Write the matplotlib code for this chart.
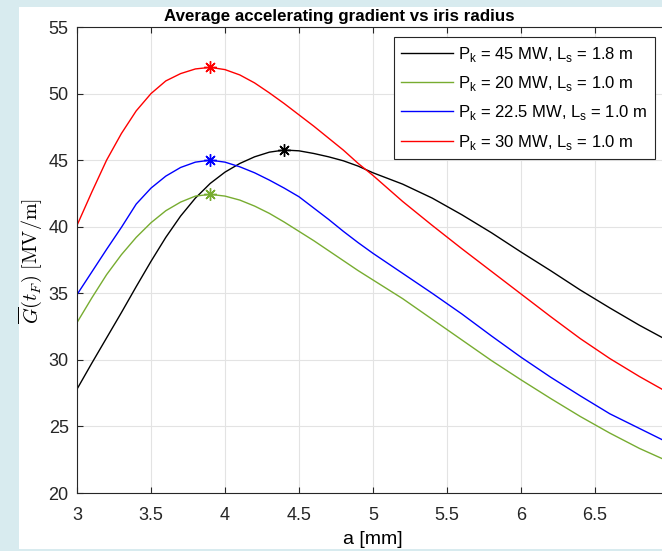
import numpy as np
import matplotlib
matplotlib.use("Agg")
import matplotlib.pyplot as plt
from matplotlib.patches import Rectangle

# Data.
a_mm = [3.0, 3.1, 3.2, 3.3, 3.4, 3.5, 3.6, 3.7, 3.8, 3.9, 4.0, 4.1, 4.2, 4.3,
        4.4, 4.5, 4.6, 4.7, 4.8, 4.9, 5.0, 5.2, 5.4, 5.6, 5.8, 6.0, 6.2, 6.4,
        6.6, 6.8, 7.0]

g_45_18 = [27.8, 29.75, 31.65, 33.55, 35.5, 37.4, 39.2, 40.8, 42.15, 43.25, 44.1,
           44.75, 45.25, 45.6, 45.76, 45.7, 45.5, 45.25, 44.95, 44.55, 44.05,
           43.2, 42.15, 40.9, 39.55, 38.1, 36.7, 35.25, 33.9, 32.6, 31.4]
g_20_10 = [32.8, 34.65, 36.4, 37.9, 39.2, 40.3, 41.2, 41.85, 42.3, 42.43, 42.3,
           42.0, 41.55, 41.0, 40.35, 39.65, 38.95, 38.2, 37.45, 36.7, 36.0,
           34.6, 33.05, 31.5, 29.95, 28.5, 27.1, 25.75, 24.5, 23.35, 22.35]
g_225_10 = [34.9, 36.6, 38.3, 39.95, 41.7, 42.9, 43.8, 44.45, 44.85, 45.0, 44.85,
            44.5, 44.05, 43.5, 42.9, 42.25, 41.4, 40.55, 39.65, 38.8, 38.0,
            36.5, 35.0, 33.45, 31.8, 30.2, 28.7, 27.3, 25.95, 24.85, 23.75]
g_30_10 = [40.1, 42.6, 45.0, 47.0, 48.7, 50.0, 50.95, 51.5, 51.85, 51.97, 51.8,
           51.4, 50.8, 50.05, 49.25, 48.4, 47.55, 46.65, 45.75, 44.75, 43.85,
           41.9, 40.1, 38.35, 36.65, 34.95, 33.25, 31.6, 30.1, 28.75, 27.5]

labels = [r"P$_\mathrm{k}$ = 45 MW, L$_\mathrm{s}$ = 1.8 m",
          r"P$_\mathrm{k}$ = 20 MW, L$_\mathrm{s}$ = 1.0 m",
          r"P$_\mathrm{k}$ = 22.5 MW, L$_\mathrm{s}$ = 1.0 m",
          r"P$_\mathrm{k}$ = 30 MW, L$_\mathrm{s}$ = 1.0 m"]
colors = ["black", "#77AC30", "blue", "red"]
series = [g_45_18, g_20_10, g_225_10, g_30_10]

W, H = 662, 551

plt.rcParams["font.family"] = ["Liberation Sans", "DejaVu Sans"]
plt.rcParams["mathtext.fontset"] = "custom"
plt.rcParams["mathtext.rm"] = "Liberation Sans"

fig = plt.figure(figsize=(W / 100, H / 100), dpi=100, facecolor="#d8ebef")
fig.patches.append(Rectangle((19 / W, 2 / H), 1 - 19 / W, (H - 9) / H,
                             transform=fig.transFigure, facecolor="white",
                             edgecolor="none", zorder=-5))

ax = fig.add_axes([77 / W, 58 / H, 592 / W, 466 / H])
ax.set_facecolor("white")

a = np.array(a_mm)
for vals, col, lab in zip(series, colors, labels):
    vals = np.array(vals)
    ax.plot(a, vals, color=col, lw=1.0, label=lab)
    i = int(np.argmax(vals))
    ax.plot(a[i], vals[i], linestyle="none", marker=(8, 2, 0), markersize=9,
            markeredgewidth=1.0, color=col)

ax.set_xlim(3, 7)
ax.set_ylim(20, 55)
ax.set_xticks(np.arange(3, 7.01, 0.5))
# the last label falls outside the cropped picture
ax.set_xticklabels(["3", "3.5", "4", "4.5", "5", "5.5", "6", "6.5", ""])
ax.set_yticks(np.arange(20, 56, 5))
ax.grid(True, color="#e3e3e3", lw=0.8)
ax.set_axisbelow(True)
ax.tick_params(direction="in", length=4, width=0.8, colors="#262626",
               labelsize=13, top=True, right=True)
ax.tick_params(axis="x", pad=10)
ax.tick_params(axis="y", pad=6)
for s in ax.spines.values():
    s.set_color("#262626")
    s.set_linewidth(0.8)

fig.text(339 / W, 1 - 20.5 / H, "Average accelerating gradient vs iris radius",
         ha="center", va="baseline", fontsize=12.2, fontweight="bold")
fig.text(372.5 / W, 1 - 540 / H, "a [mm]", ha="center", va="center",
         fontsize=14)
fig.text(31 / W, 1 - 261 / H, r"$\overline{G}(t_F)\ [\mathrm{MV/m}]$",
         ha="center", va="center", rotation=90, fontsize=14.5,
         math_fontfamily="cm")

leg = ax.legend(loc="upper right", bbox_to_anchor=(655 / W, 1 - 37 / H),
                bbox_transform=fig.transFigure, borderaxespad=0,
                fontsize=12, handlelength=3.1, handletextpad=0.3,
                labelspacing=0.62, borderpad=0.45, fancybox=False,
                framealpha=1, edgecolor="#262626")
leg.get_frame().set_linewidth(0.8)

fig.savefig("out.png", dpi=100, facecolor=fig.get_facecolor())
